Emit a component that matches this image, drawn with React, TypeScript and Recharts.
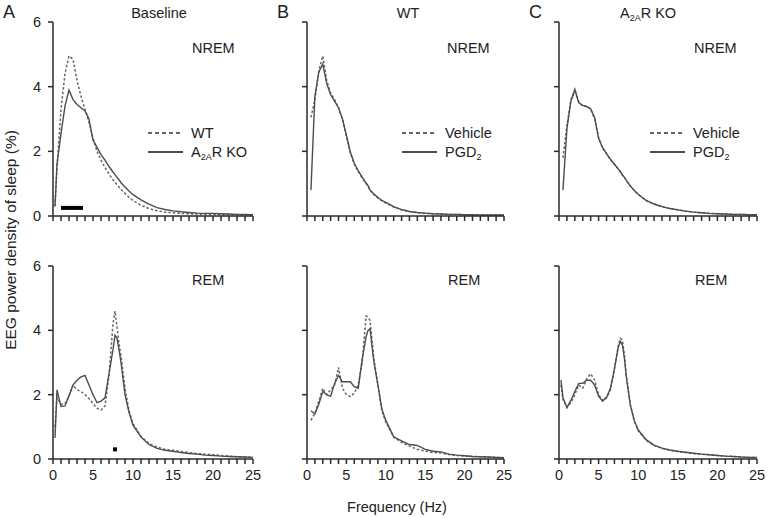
import { LineChart, Line, XAxis, YAxis, ReferenceLine, ReferenceDot } from 'recharts';

// frequency bins (Hz), shared by all panels
const FREQ = [
  0.25, 0.5, 1, 1.5, 2, 2.5, 3, 3.5, 4, 4.5, 5, 5.5, 6, 6.5, 7, 7.5, 7.75, 8, 8.25, 8.5,
  9, 9.5, 10, 11, 12, 13, 14, 15, 16, 17, 18, 19, 20, 21, 22, 23, 24, 25,
];

// A: baseline
const A_NREM_WT = [
  0.3, 1.5, 3.3, 4.4, 4.95, 4.85, 4.2, 3.7, 3.3, 2.9, 2.4, 2.0, 1.73, 1.5, 1.3, 1.12, 1.05, 0.97, 0.9, 0.82,
  0.7, 0.58, 0.48, 0.33, 0.23, 0.16, 0.12, 0.1, 0.08, 0.07, 0.06, 0.05, 0.05, 0.04, 0.04, 0.03, 0.03, 0.03,
];
const A_NREM_KO = [
  0.3, 1.6, 2.55, 3.4, 3.9, 3.6, 3.45, 3.35, 3.25, 3.0, 2.35, 2.12, 1.9, 1.73, 1.53, 1.36, 1.28, 1.2, 1.12, 1.03,
  0.9, 0.77, 0.66, 0.5, 0.37, 0.26, 0.2, 0.16, 0.13, 0.11, 0.09, 0.08, 0.08, 0.07, 0.06, 0.05, 0.05, 0.04,
];
const A_REM_WT = [
  1.0, 1.9, 1.7, 1.72, 1.95, 2.3, 2.15, 2.1, 2.0, 1.88, 1.72, 1.58, 1.52, 1.65, 2.6, 4.2, 4.6, 4.1, 3.6, 3.2,
  2.2, 1.5, 1.1, 0.7, 0.48, 0.37, 0.3, 0.27, 0.23, 0.2, 0.17, 0.15, 0.13, 0.11, 0.09, 0.07, 0.06, 0.05,
];
const A_REM_KO = [
  0.65, 2.15, 1.63, 1.65, 1.97, 2.3, 2.45, 2.55, 2.6, 2.3, 2.0, 1.75, 1.8, 1.9, 2.65, 3.4, 3.85, 3.75, 3.4, 3.0,
  2.0, 1.45, 1.05, 0.68, 0.45, 0.33, 0.27, 0.24, 0.2, 0.17, 0.15, 0.12, 0.11, 0.09, 0.08, 0.07, 0.06, 0.05,
];

// B: WT, vehicle vs PGD2
const B_NREM_VEH = [
  null, 3.05, 3.6, 4.5, 4.95, 4.2, 3.8, 3.6, 3.35, 3.0, 2.45, 1.95, 1.6, 1.38, 1.18, 1.0, 0.92, 0.8, 0.73, 0.66,
  0.55, 0.47, 0.4, 0.28, 0.19, 0.14, 0.1, 0.08, 0.07, 0.06, 0.05, 0.05, 0.04, 0.04, 0.03, 0.03, 0.03, 0.03,
];
const B_NREM_PGD = [
  null, 0.8, 3.7, 4.45, 4.7, 4.1, 3.75, 3.55, 3.35, 3.0, 2.5, 1.98, 1.63, 1.4, 1.2, 1.02, 0.94, 0.8, 0.74, 0.68,
  0.57, 0.48, 0.42, 0.29, 0.2, 0.14, 0.11, 0.09, 0.07, 0.06, 0.05, 0.05, 0.04, 0.04, 0.03, 0.03, 0.03, 0.03,
];
const B_REM_VEH = [
  null, 1.2, 1.42, 1.8, 2.2, 2.0, 2.15, 2.3, 2.85, 2.2, 2.0, 1.94, 2.05, 2.3, 3.0, 4.45, 4.4, 4.3, 3.7, 3.1,
  2.3, 1.5, 1.15, 0.68, 0.52, 0.4, 0.3, 0.25, 0.2, 0.19, 0.14, 0.11, 0.09, 0.08, 0.07, 0.06, 0.05, 0.04,
];
const B_REM_PGD = [
  null, 1.5, 1.4, 1.7, 2.1, 2.0, 1.95, 2.35, 2.6, 2.4, 2.4, 2.4, 2.25, 2.2, 3.1, 3.8, 4.0, 4.05, 3.5, 3.0,
  2.3, 1.55, 1.2, 0.69, 0.56, 0.45, 0.42, 0.3, 0.24, 0.22, 0.15, 0.12, 0.1, 0.08, 0.07, 0.06, 0.05, 0.04,
];

// C: A2AR KO, vehicle vs PGD2
const C_NREM_VEH = [
  null, 1.8, 2.8, 3.6, 3.92, 3.52, 3.4, 3.4, 3.3, 3.0, 2.42, 2.1, 1.92, 1.74, 1.6, 1.45, 1.37, 1.27, 1.2, 1.1,
  0.93, 0.79, 0.67, 0.48, 0.37, 0.29, 0.23, 0.19, 0.15, 0.12, 0.1, 0.08, 0.07, 0.06, 0.05, 0.05, 0.04, 0.04,
];
const C_NREM_PGD = [
  null, 0.8, 2.7, 3.55, 3.9, 3.5, 3.42, 3.38, 3.32, 3.05, 2.4, 2.12, 1.93, 1.75, 1.6, 1.45, 1.37, 1.27, 1.2, 1.1,
  0.93, 0.79, 0.67, 0.48, 0.37, 0.29, 0.23, 0.19, 0.15, 0.12, 0.1, 0.08, 0.07, 0.06, 0.05, 0.05, 0.04, 0.04,
];
const C_REM_VEH = [
  2.3, 1.85, 1.6, 1.75, 2.0, 2.3, 2.2, 2.5, 2.65, 2.45, 2.0, 1.82, 1.9, 2.15, 2.8, 3.55, 3.75, 3.7, 3.25, 2.6,
  1.7, 1.18, 0.88, 0.58, 0.42, 0.33, 0.27, 0.23, 0.2, 0.17, 0.15, 0.13, 0.11, 0.09, 0.08, 0.06, 0.05, 0.05,
];
const C_REM_PGD = [
  2.45, 1.9, 1.6, 1.82, 2.1, 2.35, 2.35, 2.45, 2.45, 2.3, 1.95, 1.8, 1.92, 2.2, 2.8, 3.5, 3.65, 3.55, 3.15, 2.55,
  1.68, 1.2, 0.9, 0.6, 0.43, 0.34, 0.28, 0.24, 0.21, 0.18, 0.15, 0.13, 0.11, 0.09, 0.08, 0.06, 0.05, 0.05,
];

// significance marks in panel A (Hz, value)
const SIG_NREM_RANGE = [1, 3.75];
const SIG_NREM_Y = 0.25;
const SIG_REM_HZ = 7.75;
const SIG_REM_Y = 0.3;

const X_TICKS = [0, 1, 2, 3, 4, 5, 6, 7, 8, 9, 10, 11, 12, 13, 14, 15, 16, 17, 18, 19, 20, 21, 22, 23, 24, 25];
const Y_TICKS = [0, 2, 4, 6];

const FONT = '"Liberation Sans", Arial, sans-serif';
const AXIS = '#2a2a2a';
const SOLID = '#4d4d4d';
const DASHED = '#666';

const Y_W = 40;
const M_TOP = 10;
const M_RIGHT = 12;
const X_H = 30;

type PanelProps = {
  left: number;
  top: number;
  plotW: number;
  plotH: number;
  dashed: (number | null)[];
  solid: (number | null)[];
  yLabels?: boolean;
  xLabels?: boolean;
  sigRange?: boolean;
  sigDot?: boolean;
};

function Panel({ left, top, plotW, plotH, dashed, solid, yLabels, xLabels, sigRange, sigDot }: PanelProps) {
  const data = FREQ.map((f, i) => ({ f, dashed: dashed[i], solid: solid[i] }));
  return (
    <div style={{ position: 'absolute', left: left - Y_W, top: top - M_TOP }}>
      <LineChart
        width={Y_W + plotW + M_RIGHT}
        height={M_TOP + plotH + X_H}
        data={data}
        margin={{ top: M_TOP, right: M_RIGHT, left: 0, bottom: 0 }}
      >
        <XAxis
          dataKey="f"
          type="number"
          domain={[0, 25]}
          ticks={X_TICKS}
          interval={0}
          height={X_H}
          tickSize={5}
          tickMargin={6}
          stroke={AXIS}
          strokeWidth={1.5}
          tick={{ fontSize: 14.5, fill: '#222', fontFamily: FONT }}
          tickFormatter={(v: number) => (xLabels && v % 5 === 0 ? String(v) : '')}
        />
        <YAxis
          type="number"
          domain={[0, 6]}
          ticks={Y_TICKS}
          width={Y_W}
          tickSize={5}
          tickMargin={7}
          stroke={AXIS}
          strokeWidth={1.5}
          allowDataOverflow
          tick={{ fontSize: 14.5, fill: '#222', fontFamily: FONT }}
          tickFormatter={(v: number) => (yLabels ? String(v) : '')}
        />
        <Line
          dataKey="dashed"
          stroke={DASHED}
          strokeWidth={1.5}
          strokeDasharray="2.5 2"
          dot={false}
          isAnimationActive={false}
        />
        <Line
          dataKey="solid"
          stroke={SOLID}
          strokeWidth={1.4}
          dot={false}
          isAnimationActive={false}
        />
        {sigRange && (
          <ReferenceLine
            segment={[
              { x: SIG_NREM_RANGE[0], y: SIG_NREM_Y },
              { x: SIG_NREM_RANGE[1], y: SIG_NREM_Y },
            ]}
            stroke="#000"
            strokeWidth={4}
          />
        )}
        {sigDot && (
          <ReferenceDot
            x={SIG_REM_HZ}
            y={SIG_REM_Y}
            r={2}
            shape={(p: any) => <rect x={p.cx - 2} y={p.cy - 2} width={4} height={4} fill="#000" />}
          />
        )}
      </LineChart>
    </div>
  );
}

function Sub({ main, sub, after }: { main: string; sub: string; after?: string }) {
  return (
    <>
      {main}
      <tspan fontSize={9} dy={3}>{sub}</tspan>
      {after !== undefined && <tspan dy={-3}>{after}</tspan>}
    </>
  );
}

function Legend({ x, y, first, second }: { x: number; y: number; first: React.ReactNode; second: React.ReactNode }) {
  return (
    <g>
      <line x1={x} x2={x + 35} y1={y} y2={y} stroke={DASHED} strokeWidth={1.8} strokeDasharray="4 3" />
      <text x={x + 43} y={y + 5}>{first}</text>
      <line x1={x} x2={x + 35} y1={y + 19} y2={y + 19} stroke={SOLID} strokeWidth={1.8} />
      <text x={x + 43} y={y + 24}>{second}</text>
    </g>
  );
}

export default function App() {
  return (
    <div style={{ position: 'absolute', left: 0, top: 0, width: 769, height: 518, background: '#fff', fontFamily: FONT }}>
      <Panel left={53} top={22} plotW={200} plotH={194} dashed={A_NREM_WT} solid={A_NREM_KO} yLabels sigRange />
      <Panel left={53} top={266} plotW={200} plotH={193} dashed={A_REM_WT} solid={A_REM_KO} yLabels xLabels sigDot />
      <Panel left={307} top={22} plotW={197} plotH={194} dashed={B_NREM_VEH} solid={B_NREM_PGD} />
      <Panel left={307} top={266} plotW={197} plotH={193} dashed={B_REM_VEH} solid={B_REM_PGD} xLabels />
      <Panel left={559} top={22} plotW={198} plotH={194} dashed={C_NREM_VEH} solid={C_NREM_PGD} />
      <Panel left={559} top={266} plotW={198} plotH={193} dashed={C_REM_VEH} solid={C_REM_PGD} xLabels />

      <svg
        width={769}
        height={518}
        style={{ position: 'absolute', left: 0, top: 0, pointerEvents: 'none' }}
        fontFamily={FONT}
        fontSize={14.5}
        fill="#222"
      >
        <text x={3} y={18} fontSize={18}>A</text>
        <text x={277} y={18} fontSize={18}>B</text>
        <text x={529} y={18} fontSize={18}>C</text>

        <text x={159} y={18} textAnchor="middle">Baseline</text>
        <text x={408} y={18} textAnchor="middle">WT</text>
        <text x={620} y={18}><Sub main="A" sub="2A" after="R KO" /></text>

        <text x={192} y={53}>NREM</text>
        <text x={447} y={53}>NREM</text>
        <text x={694} y={53}>NREM</text>
        <text x={192} y={285}>REM</text>
        <text x={448} y={285}>REM</text>
        <text x={695} y={285}>REM</text>

        <Legend x={148} y={133} first="WT" second={<Sub main="A" sub="2A" after="R KO" />} />
        <Legend x={402} y={133} first="Vehicle" second={<Sub main="PGD" sub="2" />} />
        <Legend x={650} y={133} first="Vehicle" second={<Sub main="PGD" sub="2" />} />

        <text x={397} y={512} textAnchor="middle">Frequency (Hz)</text>
        <text
          x={0}
          y={0}
          textAnchor="middle"
          dominantBaseline="middle"
          fontSize={15.5}
          transform="translate(12 240) rotate(-90)"
        >
          EEG power density of sleep (%)
        </text>
      </svg>
    </div>
  );
}
